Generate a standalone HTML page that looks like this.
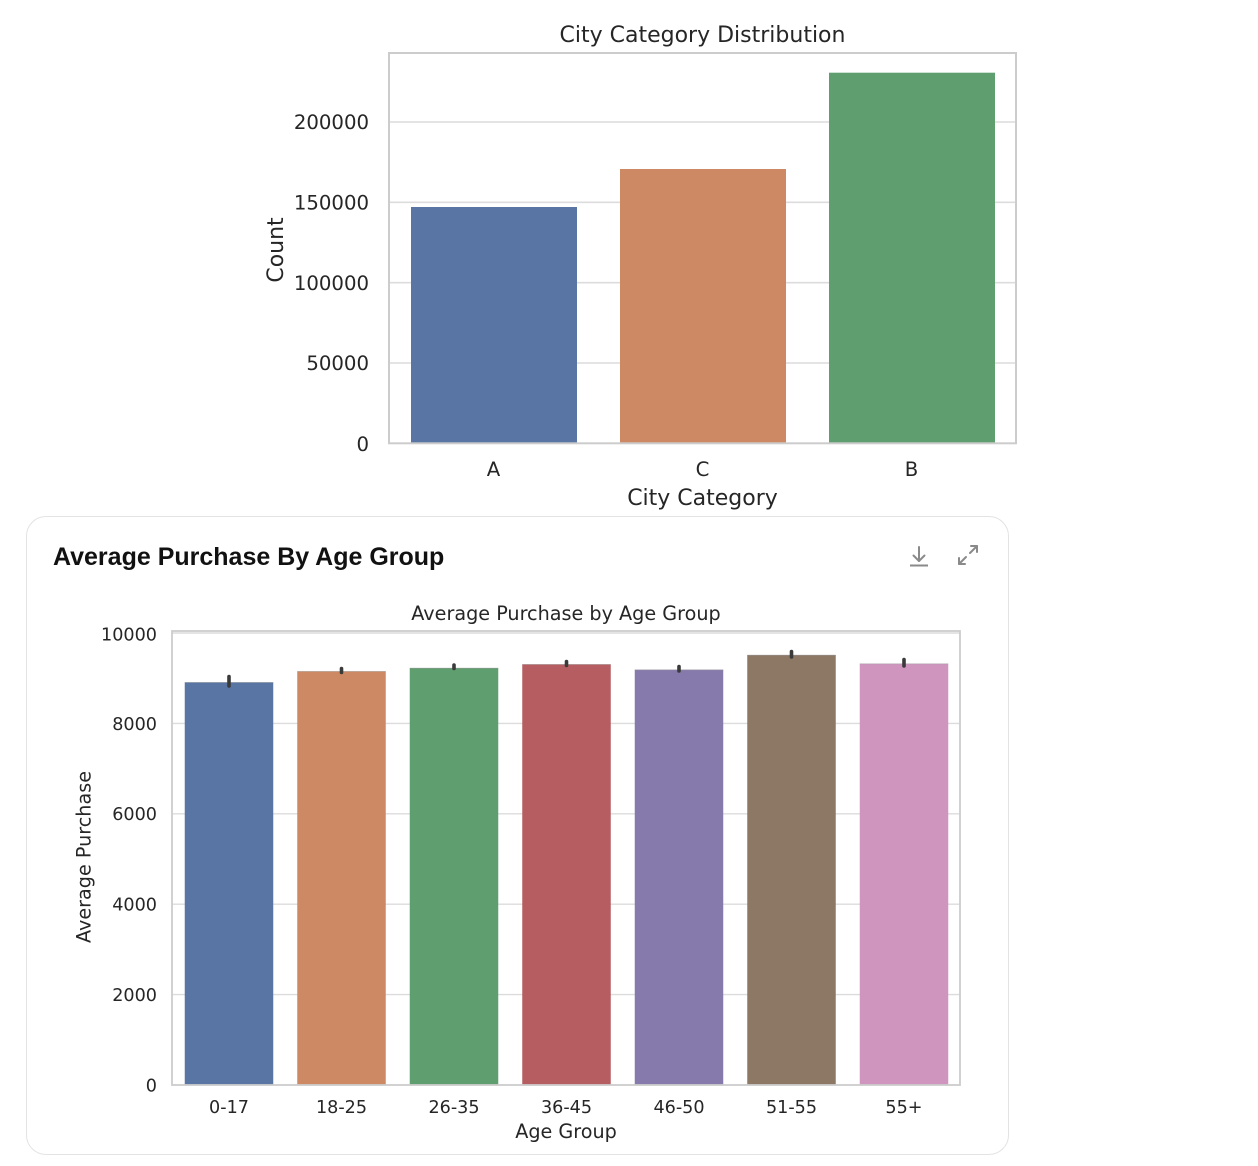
<!DOCTYPE html>
<html>
<head>
<meta charset="utf-8">
<style>
  html,body{margin:0;padding:0;background:#ffffff;}
  body{width:1258px;height:1166px;position:relative;overflow:hidden;}
  .card{position:absolute;left:26px;top:516px;width:983px;height:639px;border:1px solid #e3e3e3;border-radius:20px;box-sizing:border-box;}
  .ctitle{position:absolute;left:53px;top:542px;font-family:"Liberation Sans",sans-serif;font-weight:bold;font-size:25px;color:#111;letter-spacing:0px;white-space:nowrap;line-height:30px;}
  svg{position:absolute;left:0;top:0;}
  text{font-family:"DejaVu Sans","Liberation Sans",sans-serif;fill:#262626;}
</style>
</head>
<body>
<div class="card"></div>
<div class="ctitle">Average Purchase By Age Group</div>
<svg width="1258" height="1166" viewBox="0 0 1258 1166" xmlns="http://www.w3.org/2000/svg">
  <!-- ===== Top chart ===== -->
  <g>
    <g stroke="#dcdcdc" stroke-width="1.6">
      <line x1="389" y1="363" x2="1016" y2="363"/>
      <line x1="389" y1="282.7" x2="1016" y2="282.7"/>
      <line x1="389" y1="202.3" x2="1016" y2="202.3"/>
      <line x1="389" y1="122" x2="1016" y2="122"/>
    </g>
    <rect x="411" y="207" width="166" height="236.3" fill="#5875a4"/>
    <rect x="620" y="169" width="166" height="274.3" fill="#cc8963"/>
    <rect x="829" y="72.7" width="166" height="370.6" fill="#5f9e6e"/>
    <rect x="389" y="53" width="627" height="390.3" fill="none" stroke="#cccccc" stroke-width="2"/>
    <g font-size="19.7" text-anchor="end">
      <text x="369" y="451">0</text>
      <text x="369" y="370.2">50000</text>
      <text x="369" y="290">100000</text>
      <text x="369" y="209.5">150000</text>
      <text x="369" y="129.2">200000</text>
    </g>
    <g font-size="19.7" text-anchor="middle">
      <text x="493.5" y="476">A</text>
      <text x="702.5" y="476">C</text>
      <text x="911.5" y="476">B</text>
    </g>
    <text x="702.5" y="505" font-size="22" text-anchor="middle">City Category</text>
    <text x="702.5" y="42" font-size="22" text-anchor="middle">City Category Distribution</text>
    <text transform="translate(283,250) rotate(-90)" font-size="22" text-anchor="middle">Count</text>
  </g>

  <!-- ===== Card icons ===== -->
  <g stroke="#8a8a8a" stroke-width="2" fill="none" stroke-linecap="round" stroke-linejoin="round">
    <line x1="919" y1="547" x2="919" y2="561"/>
    <polyline points="913.5,555.5 919,561 924.5,555.5"/>
    <line x1="910" y1="565.5" x2="928" y2="565.5" stroke-linecap="butt"/>
    <line x1="959" y1="564" x2="966" y2="557"/>
    <polyline points="959,558 959,564 965,564"/>
    <line x1="977" y1="546" x2="970" y2="553"/>
    <polyline points="971,546 977,546 977,552"/>
  </g>

  <!-- ===== Bottom chart ===== -->
  <g>
    <g stroke="#dcdcdc" stroke-width="1.4">
      <line x1="172" y1="994.6" x2="960" y2="994.6"/>
      <line x1="172" y1="904.2" x2="960" y2="904.2"/>
      <line x1="172" y1="813.8" x2="960" y2="813.8"/>
      <line x1="172" y1="723.4" x2="960" y2="723.4"/>
      <line x1="172" y1="633" x2="960" y2="633"/>
    </g>
    <!-- centers 229, 341.5, 454, 566.5, 679, 791.5, 904 ; width 88.5 -->
    <rect x="184.75" y="682.3" width="88.5" height="402.7" fill="#5875a4"/>
    <rect x="297.25" y="671.3" width="88.5" height="413.7" fill="#cc8963"/>
    <rect x="409.75" y="668" width="88.5" height="417" fill="#5f9e6e"/>
    <rect x="522.25" y="664.3" width="88.5" height="420.7" fill="#b55d60"/>
    <rect x="634.75" y="669.7" width="88.5" height="415.3" fill="#857aab"/>
    <rect x="747.25" y="655" width="88.5" height="430" fill="#8d7866"/>
    <rect x="859.75" y="663.7" width="88.5" height="421.3" fill="#d095bf"/>
    <g stroke="#9a9a9a" stroke-width="0.8" opacity="0.6">
      <line x1="184.75" y1="682.5" x2="273.25" y2="682.5"/>
      <line x1="297.25" y1="671.5" x2="385.75" y2="671.5"/>
      <line x1="409.75" y1="668.2" x2="498.25" y2="668.2"/>
      <line x1="522.25" y1="664.5" x2="610.75" y2="664.5"/>
      <line x1="634.75" y1="669.9" x2="723.25" y2="669.9"/>
      <line x1="747.25" y1="655.2" x2="835.75" y2="655.2"/>
      <line x1="859.75" y1="663.9" x2="948.25" y2="663.9"/>
    </g>
    <g stroke="#3a3a3a" stroke-width="3.6" stroke-linecap="round">
      <line x1="229" y1="676.5" x2="229" y2="686"/>
      <line x1="341.5" y1="668.5" x2="341.5" y2="672.5"/>
      <line x1="454" y1="665" x2="454" y2="668.5"/>
      <line x1="566.5" y1="661.5" x2="566.5" y2="665.5"/>
      <line x1="679" y1="666.5" x2="679" y2="671"/>
      <line x1="791.5" y1="651.5" x2="791.5" y2="657"/>
      <line x1="904" y1="659.5" x2="904" y2="666"/>
    </g>
    <rect x="172" y="631" width="788" height="454" fill="none" stroke="#cccccc" stroke-width="1.8"/>
    <g font-size="17.6" text-anchor="end">
      <text x="157" y="1091.4">0</text>
      <text x="157" y="1001">2000</text>
      <text x="157" y="910.6">4000</text>
      <text x="157" y="820.2">6000</text>
      <text x="157" y="729.8">8000</text>
      <text x="157" y="640.4">10000</text>
    </g>
    <g font-size="17.6" text-anchor="middle">
      <text x="229" y="1113">0-17</text>
      <text x="341.5" y="1113">18-25</text>
      <text x="454" y="1113">26-35</text>
      <text x="566.5" y="1113">36-45</text>
      <text x="679" y="1113">46-50</text>
      <text x="791.5" y="1113">51-55</text>
      <text x="904" y="1113">55+</text>
    </g>
    <text x="566" y="1138" font-size="19.2" text-anchor="middle">Age Group</text>
    <text x="566" y="620" font-size="19.2" text-anchor="middle">Average Purchase by Age Group</text>
    <text transform="translate(90.5,857) rotate(-90)" font-size="19.2" text-anchor="middle">Average Purchase</text>
  </g>
</svg>
</body>
</html>
